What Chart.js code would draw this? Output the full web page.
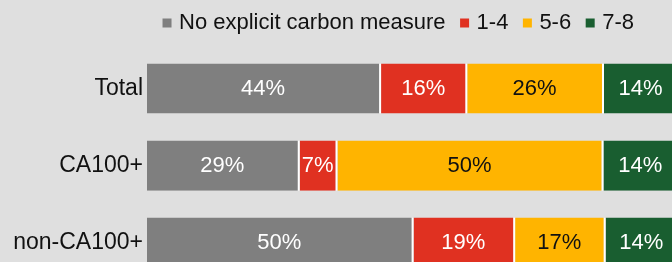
<!DOCTYPE html>
<html>
<head>
<meta charset="utf-8">
<script src="https://cdn.jsdelivr.net/npm/chart.js@4"></script>
<style>
  body { margin: 0; background: #dfdfdf; }
  #wrap { width: 672px; height: 262px; overflow: hidden; position: relative; }
  #box { position: absolute; left: 0; top: 0; width: 679px; height: 299px; }
</style>
</head>
<body>
<div id="wrap"><div id="box"><canvas id="carbonChart"></canvas></div></div>
<script>
    // Data (share of companies, %)
    const categories = ['Total', 'CA100+', 'non-CA100+'];
    const seriesNames = ['No explicit carbon measure', '1-4', '5-6', '7-8'];
    const noMeasure = [44.0, 28.7, 50.1];
    const score14 = [16.2, 7.1, 19.1];
    const score56 = [25.7, 50.0, 17.0];
    const score78 = [14.1, 14.2, 13.8];

    const fillColors = ['#7f7f7f', '#e03121', '#ffb400', '#195e30'];
    const textColors = ['#ffffff', '#ffffff', '#111111', '#ffffff'];
    const fontFamily = "'Liberation Sans', Arial, Helvetica, sans-serif";

    Chart.defaults.font.family = fontFamily;
    Chart.defaults.color = '#111111';

    // Percent labels in the middle of each segment
    const barLabels = {
    id: 'barLabels',
    afterDatasetsDraw(chart) {
    const ctx = chart.ctx;
    ctx.save();
    ctx.font = '22px ' + fontFamily;
    ctx.textAlign = 'center';
    ctx.textBaseline = 'middle';
    chart.data.datasets.forEach((ds, i) => {
    chart.getDatasetMeta(i).data.forEach((bar, j) => {
    const p = bar.getProps(['x', 'y', 'base'], true);
    ctx.fillStyle = ds.labelColor;
    ctx.fillText(Math.round(ds.data[j]) + '%', (p.x + p.base) / 2 - 1, p.y);
});
});
    ctx.restore();
}
};

    // Legend sits a bit left of the plot centre and close to the top in the original
    const legendOffset = {
    id: 'legendOffset',
    afterLayout(chart) {
    const lg = chart.legend;
    lg.left -= 13;
    lg.right -= 13;
    lg.top -= 6;
    lg.bottom -= 6;
}
};

    const values = [noMeasure, score14, score56, score78];
    const ctx = document.getElementById('carbonChart').getContext('2d');

    new Chart(ctx, {
    type: 'bar',
    data: {
    labels: categories,
    datasets: seriesNames.map((name, i) => ({
    label: name,
    data: values[i],
    backgroundColor: fillColors[i],
    borderColor: '#ffffff',
    borderWidth: {top: 0, right: 2, bottom: 0, left: 0},
    labelColor: textColors[i],
    categoryPercentage: 0.65,
    barPercentage: 1
}))
},
    options: {
    indexAxis: 'y',
    responsive: true,
    maintainAspectRatio: false,
    animation: false,
    layout: {padding: 0},
    plugins: {
    legend: {
    position: 'top',
    fullSize: false,
    labels: {
    usePointStyle: true,
    pointStyle: 'rect',
    boxWidth: 2,
    boxHeight: 9,
    padding: 18,
    color: '#111111',
    font: {size: 22},
    generateLabels(chart) {
    return Chart.defaults.plugins.legend.labels.generateLabels(chart)
    .map(item => ({...item, lineWidth: 0}));
}
}
},
    tooltip: {enabled: false}
},
    scales: {
    x: {
    stacked: true,
    min: 0,
    max: 100,
    display: false
},
    y: {
    stacked: true,
    grid: {display: false, drawTicks: false},
    border: {display: false},
    ticks: {
    color: '#111111',
    padding: 4,
    font: {size: 23}
},
    afterFit(scale) {
    scale.width = 147;
}
}
}
},
    plugins: [barLabels, legendOffset]
});
</script>
</body>
</html>
